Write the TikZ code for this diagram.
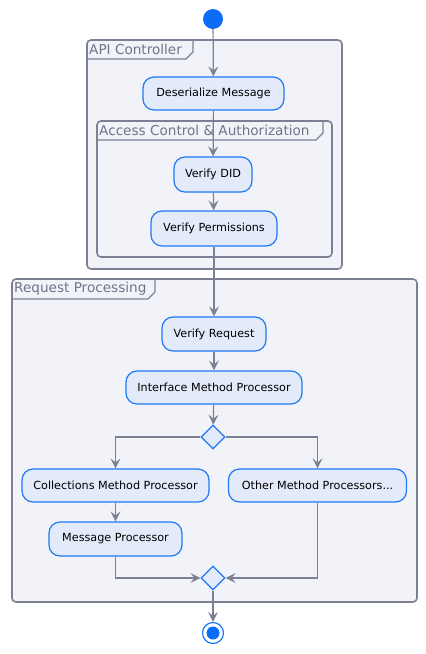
\documentclass[tikz,border=0pt]{standalone}
\usepackage{fontspec}
\setmainfont{DejaVu Sans}
\usetikzlibrary{shapes.geometric,arrows.meta}
\definecolor{framefill}{HTML}{F2F3F8}
\definecolor{frameline}{HTML}{7B8095}
\definecolor{titlecol}{HTML}{6F7589}
\definecolor{nodefill}{HTML}{E3EBFA}
\definecolor{nodeline}{HTML}{1F78F7}
\definecolor{dotblue}{HTML}{0A6CF7}
\tikzset{
  frame/.style={draw=frameline, fill=framefill, line width=1.6pt, rounded corners=4pt},
  tabline/.style={draw=frameline, line width=1.3pt},
  ftitle/.style={anchor=west, inner sep=0pt, text=titlecol, font=\fontsize{13.6}{15}\selectfont},
  action/.style={draw=nodeline, fill=nodefill, line width=1.2pt, rounded corners=11pt, inner sep=0pt, font=\fontsize{11.2}{13}\selectfont},
  choice/.style={diamond, draw=nodeline, fill=nodefill, line width=1.2pt, minimum width=24pt, minimum height=24pt, inner sep=0pt},
  flow/.style={draw=frameline, line width=1.2pt, -{Stealth[length=10pt,width=10pt,inset=4pt]}},
  plain/.style={draw=frameline, line width=1.2pt}
}
\begin{document}
\begin{tikzpicture}[x=1pt,y=-1pt]
\useasboundingbox (0,0) rectangle (426,654);
% frames
\draw[frame] (87,40) rectangle (342,269);
\draw[tabline] (87,59) -- (186,59) -- (193,52) -- (193,40);
\node[ftitle] (t1) at (89,49.5) {API Controller};
\draw[frame] (97,121) rectangle (332,257);
\draw[tabline] (97,140) -- (316,140) -- (323,133) -- (323,121);
\node[ftitle] (t2) at (99,130.5) {Access Control \& Authorization};
\draw[frame] (12,279) rectangle (417,602);
\draw[tabline] (12,299) -- (148,299) -- (155,292) -- (155,279);
\node[ftitle] (t3) at (14,289) {Request Processing};
% nodes
\node[circle, fill=dotblue, minimum size=20pt, inner sep=0pt] (start) at (213,19) {};
\node[action, minimum width=141pt, minimum height=33pt] (des) at (213.5,93.5) {Deserialize Message};
\node[action, minimum width=78pt, minimum height=35pt] (did) at (213,174.5) {Verify DID};
\node[action, minimum width=126pt, minimum height=35pt] (perm) at (214,228.5) {Verify Permissions};
\node[action, minimum width=104pt, minimum height=34pt] (vreq) at (214,334) {Verify Request};
\node[action, minimum width=176pt, minimum height=33pt] (imp) at (214,387.5) {Interface Method Processor};
\node[choice] (d1) at (213,437) {};
\node[action, minimum width=187pt, minimum height=33pt] (cmp) at (115.5,485.5) {Collections Method Processor};
\node[action, minimum width=178pt, minimum height=33pt] (omp) at (317.5,485.5) {Other Method Processors...};
\node[action, minimum width=133pt, minimum height=34pt] (mp) at (115.5,539) {Message Processor};
\node[choice] (d2) at (213,578) {};
\node[circle, draw=nodeline, fill=white, line width=1.2pt, minimum size=21pt, inner sep=0pt] (end) at (213,633) {};
\fill[dotblue] (end.center) circle (6.5pt);
% edges
\draw[flow] (start) -- (des);
\draw[flow] (des) -- (did);
\draw[flow] (did) -- (perm);
\draw[flow] (perm) -- (vreq);
\draw[flow] (vreq) -- (imp);
\draw[flow] (imp) -- (d1);
\draw[flow] (d1.west) -| (cmp.north);
\draw[flow] (d1.east) -| (omp.north);
\draw[flow] (cmp) -- (mp);
\draw[flow] (mp.south) |- (d2.west);
\draw[flow] (omp.south) |- (d2.east);
\draw[flow] (d2) -- (end);
\end{tikzpicture}
\end{document}
